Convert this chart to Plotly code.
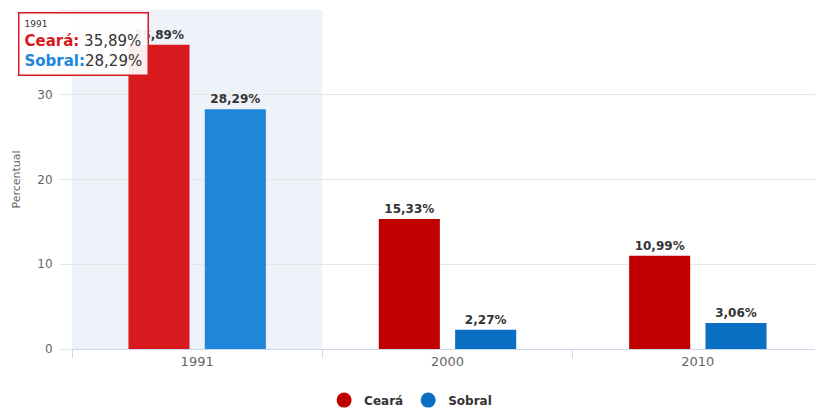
import plotly.graph_objects as go

categories = ["1991", "2000", "2010"]
ceara = [35.89, 15.33, 10.99]
sobral = [28.29, 2.27, 3.06]
series_names = ["Ceará", "Sobral"]
y_ticks = [0, 10, 20, 30, 40]

def fmt(v):
    return f"{v:.2f}".replace(".", ",") + "%"

ceara_colors = ["#d8191d", "#c00000", "#c00000"]
sobral_colors = ["#1e87da", "#0a6fc2", "#0a6fc2"]

label_font = dict(family="DejaVu Sans", size=12, color="#333333", weight="bold")

fig = go.Figure()
fig.add_trace(go.Bar(
    x=categories, y=ceara, name=series_names[0],
    marker=dict(color=ceara_colors, line=dict(width=0)),
    text=[fmt(v) for v in ceara], textposition="outside",
    textfont=label_font, cliponaxis=False, showlegend=False,
))
fig.add_trace(go.Bar(
    x=categories, y=sobral, name=series_names[1],
    marker=dict(color=sobral_colors, line=dict(width=0)),
    text=[fmt(v) for v in sobral], textposition="outside",
    textfont=label_font, cliponaxis=False, showlegend=False,
))
# legend entries with circle symbols
fig.add_trace(go.Scatter(x=[None], y=[None], mode="markers", name=series_names[0],
                         marker=dict(symbol="circle", size=15, color="#c00000")))
fig.add_trace(go.Scatter(x=[None], y=[None], mode="markers", name=series_names[1],
                         marker=dict(symbol="circle", size=15, color="#0a6fc2")))

# hover highlight band on the first category
fig.add_shape(type="rect", xref="x", yref="paper", x0=-0.5, x1=0.5, y0=0, y1=1,
              fillcolor="#eef2f9", line=dict(width=0), layer="below")

tooltip = ("<span style='font-size:9px;color:#333'>" + categories[0] + "</span><br>"
           "<b><span style='color:#d8191d'>" + series_names[0] + ":</span></b> " + fmt(ceara[0]) + "<br>"
           "<b><span style='color:#1e87da'>" + series_names[1] + ":</span></b>" + fmt(sobral[0]))
fig.add_annotation(xref="paper", yref="paper", x=-0.072, y=0.994, xanchor="left", yanchor="top",
                   text=tooltip, showarrow=False, align="left",
                   font=dict(family="DejaVu Sans", size=15, color="#333333"),
                   bgcolor="rgba(255,255,255,0.92)", bordercolor="#d8191d", borderwidth=1.5,
                   borderpad=5)

# the page body adds an 8px offset; size the figure so it fills the 823x411 window
fig.update_layout(
    width=815, height=403,
    margin=dict(l=64, r=0, t=2, b=62, autoexpand=False),
    paper_bgcolor="white", plot_bgcolor="white",
    barmode="group", bargap=0.39, bargroupgap=0.2,
    font=dict(family="DejaVu Sans", color="#666666"),
    legend=dict(orientation="h", x=0.494, xref="container", xanchor="center",
                y=0.027, yref="container", yanchor="middle",
                font=dict(family="DejaVu Sans", size=12, color="#333333", weight="bold"),
                itemwidth=30),
    xaxis=dict(
        showgrid=False, showline=True, linecolor="#ccd6eb", linewidth=1,
        ticks="outside", tickson="boundaries", ticklen=8, tickcolor="#ccd6eb",
        tickfont=dict(size=13, color="#666666"), automargin=False,
    ),
    yaxis=dict(
        range=[0, 40], tickvals=y_ticks, showgrid=True, gridcolor="#e6e6e6",
        ticks="outside", ticklen=12, tickcolor="#e6e6e6", ticklabelstandoff=4,
        zeroline=False, showline=False, tickfont=dict(size=12, color="#666666"),
        title=dict(text="Percentual", font=dict(size=11, color="#666666"), standoff=14),
        automargin=False,
    ),
)

fig.write_html("out.html")
